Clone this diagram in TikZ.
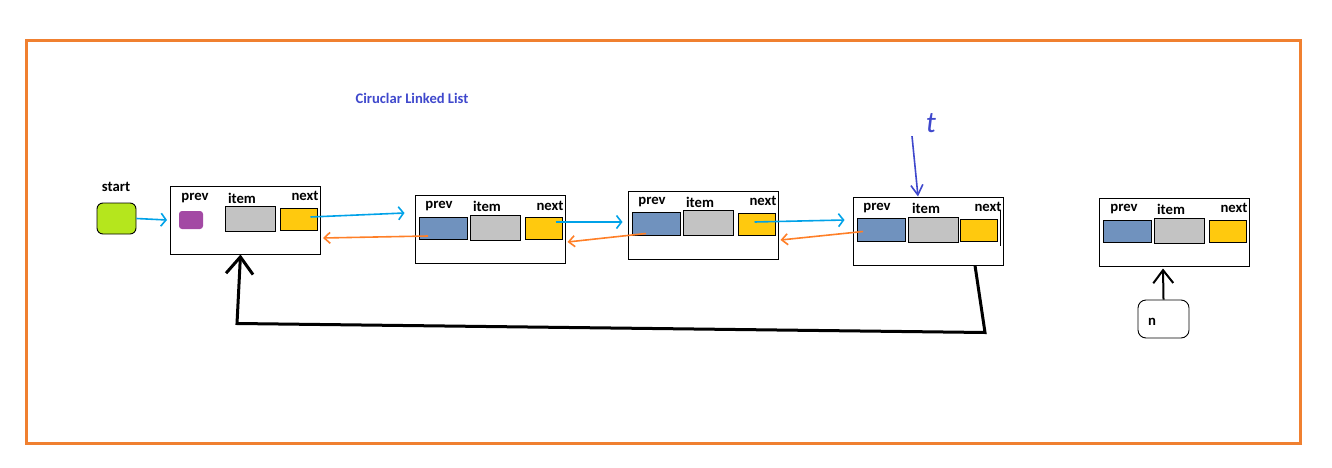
\documentclass[tikz,border=0pt]{standalone}
\usepackage{fontspec}
\setmainfont{Carlito}
\usepackage{tikz}
\usetikzlibrary{
	arrows.meta,
	calc,
	positioning
}
\definecolor{FrameOrange}{RGB}{240,128,48}
\definecolor{LinkBlue}{RGB}{0,162,232}
\definecolor{LinkOrange}{RGB}{255,127,39}
\definecolor{StartGreen}{RGB}{181,230,29}
\definecolor{CellPurple}{RGB}{163,73,164}
\definecolor{CellGray}{RGB}{195,195,195}
\definecolor{CellYellow}{RGB}{255,201,14}
\definecolor{CellBlue}{RGB}{112,146,190}
\definecolor{PenBlue}{RGB}{63,72,204}

\begin{document}
\begin{tikzpicture}[x=1pt, y=-1pt,
		box/.style={draw, line width=1pt, minimum width=150pt, minimum height=68pt, inner sep=0pt},
		cell/.style={draw, line width=0.9pt, minimum width=48pt, minimum height=22pt, inner sep=0pt},
		lbl/.style={font=\fontsize{14.7}{16}\selectfont\bfseries, inner sep=0pt},
		nextlink/.style={LinkBlue, line width=1.6pt, -{Straight Barb[length=5pt, width=13pt]}},
		prevlink/.style={LinkOrange, line width=1.6pt, -{Straight Barb[length=6pt, width=11pt]}},
		backlink/.style={line width=3pt, -{Straight Barb[length=17pt, width=27pt]}}]
		\useasboundingbox (0,0) rectangle (1332,468);
		\draw[FrameOrange, line width=3pt] (26,41) rectangle (1300,443);
		\node[PenBlue, font=\fontsize{14.6}{16}\selectfont\bfseries, inner sep=0pt] (title) at (412,98) {Ciruclar Linked List};
		% start pointer
		\node[lbl] (startlbl) at (116,187) {start};
		\node[draw, fill=StartGreen, rounded corners=6pt, line width=0.9pt, minimum width=39pt, minimum height=31pt] (start) at (116.5,218.5) {};
		% node 1
		\node[box] (n1) at (245.5,220) {};
		\node[lbl] at (195,198) {prev};
		\node[lbl] at (242,198) {item};
		\node[lbl] at (305,196) {next};
		\node[fill=CellPurple, rounded corners=3pt, minimum width=24pt, minimum height=18pt] (n1p) at (191,220) {};
		\node[cell, fill=CellGray, minimum width=50pt, minimum height=25pt] (n1i) at (250,218.5) {};
		\node[cell, fill=CellYellow, minimum width=37pt] (n1n) at (298.5,219) {};
		% node 2
		\node[box] (n2) at (490,229) {};
		\node[lbl] at (439,206) {prev};
		\node[lbl] at (487,206) {item};
		\node[lbl] at (550,206) {next};
		\node[cell, fill=CellBlue] (n2p) at (443,228) {};
		\node[cell, fill=CellGray, minimum width=50pt, minimum height=25pt] (n2i) at (495,227.5) {};
		\node[cell, fill=CellYellow, minimum width=37pt] (n2n) at (543.5,228) {};
		% node 3
		\node[box] (n3) at (703,225) {};
		\node[lbl] at (652,202) {prev};
		\node[lbl] at (700,202) {item};
		\node[lbl] at (763,201) {next};
		\node[cell, fill=CellBlue, minimum height=23pt] (n3p) at (656,223.5) {};
		\node[cell, fill=CellGray, minimum width=50pt, minimum height=25pt] (n3i) at (708,222.5) {};
		\node[cell, fill=CellYellow, minimum width=37pt] (n3n) at (756.5,224) {};
		% node 4
		\node[box] (n4) at (928,231) {};
		\node[lbl] at (877,208) {prev};
		\node[lbl] at (926,208) {item};
		\node[lbl] at (988,207) {next};
		\node[cell, fill=CellBlue, minimum height=23pt] (n4p) at (881,229.5) {};
		\node[cell, fill=CellGray, minimum width=50pt, minimum height=25pt] (n4i) at (933,229.5) {};
		\node[cell, fill=CellYellow, minimum width=37pt] (n4n) at (978.5,230) {};
		\draw[line width=1pt] ([shift={(-3,13)}]n4.north east) -- ++(0,36);
		% node 5
		\node[box] (n5) at (1174,232) {};
		\node[lbl] at (1124,209) {prev};
		\node[lbl] at (1171,209) {item};
		\node[lbl] at (1234,208) {next};
		\node[cell, fill=CellBlue] (n5p) at (1127,231) {};
		\node[cell, fill=CellGray, minimum width=50pt, minimum height=25pt] (n5i) at (1179,230.5) {};
		\node[cell, fill=CellYellow, minimum width=37pt] (n5n) at (1227.5,231) {};
		% new node n
		\node[draw, rounded corners=8pt, line width=0.9pt, minimum width=51pt, minimum height=38pt] (newn) at (1163.5,319) {};
		\node[lbl] at (1152,322) {n};
		% t pointer
		\node[PenBlue, font=\fontsize{30}{30}\selectfont\itshape] (tlbl) at (931,123) {t};
		% links
		\draw[nextlink] (start.east) -- ([xshift=-3]n1.west);
		\draw[nextlink] ([shift={(12,-2)}]n1n.center) -- ([shift={(-10,-16)}]n2.west);
		\draw[nextlink] ([shift={(12,-6)}]n2n.center) -- ([shift={(-5,-3)}]n3.west);
		\draw[nextlink] ([shift={(-2,-2)}]n3n.center) -- ([shift={(-8,-11)}]n4.west);
		\draw[prevlink] ([shift={(-15,8)}]n2p.center) -- ([shift={(2,18)}]n1.east);
		\draw[prevlink] ([shift={(-10,10)}]n3p.center) -- ([shift={(2,13)}]n2.east);
		\draw[prevlink] ([shift={(-18,2)}]n4p.center) -- ([shift={(2,15)}]n3.east);
		\draw[backlink] ([xshift=47]n4.south) -- ++(10,67) -- ++(-748,-9) -- ([xshift=-5]n1.south);
		\draw[line width=2pt, -{Straight Barb[length=13pt, width=20pt]}] (newn.north) -- ([shift={(-11,2)}]n5.south);
		\draw[PenBlue, line width=1.6pt, -{Straight Barb[length=10pt, width=12pt]}] ([xshift=-19]tlbl.south) -- ([xshift=-10]n4.north);
	\end{tikzpicture}
\end{document}
